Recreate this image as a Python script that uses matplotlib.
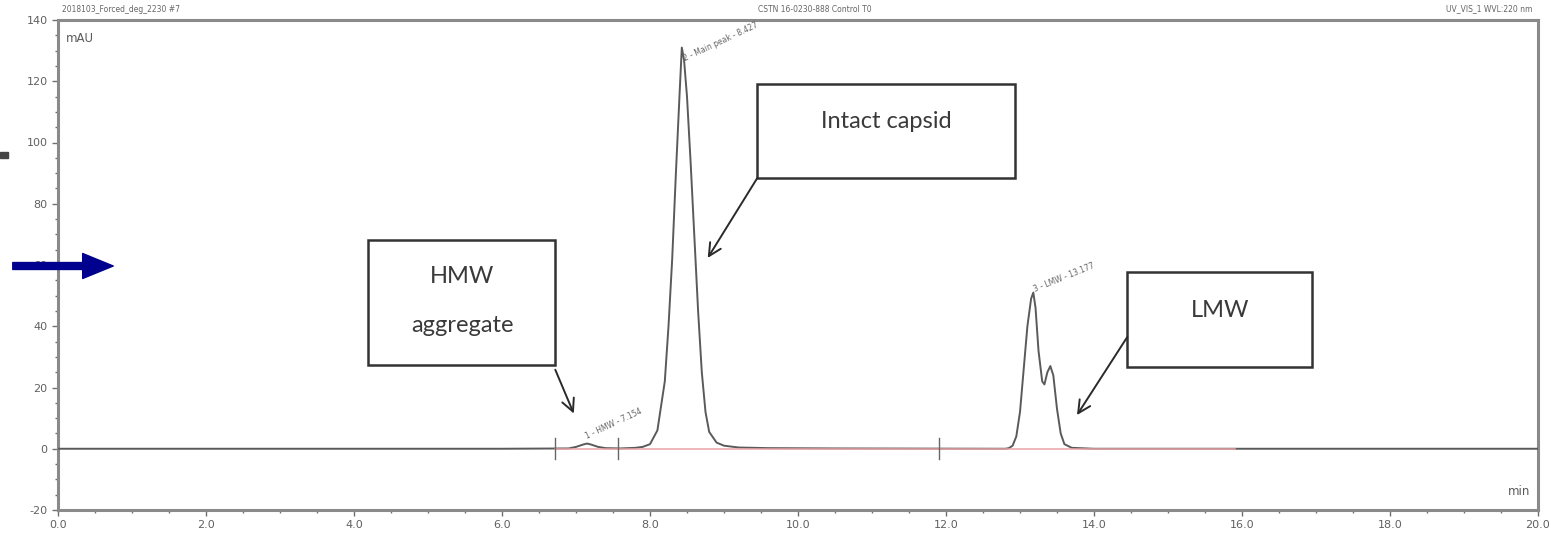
import matplotlib
matplotlib.use("Agg")
import matplotlib.pyplot as plt
from matplotlib.patches import Rectangle, FancyArrowPatch
from matplotlib.ticker import MultipleLocator

# ---- data ----
time_min = [0.0, 6.0, 6.9, 7.0, 7.1, 7.15, 7.2, 7.3, 7.4, 7.6, 7.8, 7.9, 8.0, 8.1, 8.2,
            8.25, 8.3, 8.35, 8.4, 8.43, 8.46, 8.5, 8.55, 8.6, 8.65, 8.7, 8.75, 8.8,
            8.9, 9.0, 9.2, 9.6, 10.5, 12.8, 12.85, 12.9, 12.95, 13.0, 13.05, 13.1,
            13.15, 13.18, 13.21, 13.25, 13.3, 13.33, 13.37, 13.41, 13.45, 13.5,
            13.55, 13.6, 13.7, 14.0, 20.0]
signal_mau = [0.0, 0.0, 0.1, 0.6, 1.4, 1.7, 1.4, 0.6, 0.2, 0.1, 0.3, 0.6, 1.5, 6.0, 22.0,
              40.0, 62.0, 90.0, 116.0, 131.0, 127.0, 115.0, 93.0, 69.0, 45.0, 25.0, 12.0, 5.5,
              2.0, 1.0, 0.4, 0.2, 0.1, 0.0, 0.2, 1.0, 4.0, 12.0, 26.0, 40.0,
              49.0, 51.0, 46.0, 32.0, 22.0, 21.0, 25.0, 27.0, 24.0, 13.0,
              5.0, 1.5, 0.3, 0.0, 0.0]

peak_labels = ["1 - HMW - 7.154", "2 - Main peak - 8.427", "3 - LMW - 13.177"]
peak_label_x = [7.16, 8.48, 13.21]
peak_label_y = [2.6, 126.0, 50.5]
peak_label_rot = [25, 25, 22]

delimiter_times = [6.72, 7.57, 11.9]
baseline_start, baseline_end = 6.72, 15.9

box_lines = [["Intact capsid"], ["HMW", "aggregate"], ["LMW"]]

x_ticks = [0, 2, 4, 6, 8, 10, 12, 14, 16, 18, 20]
y_ticks = [-20, 0, 20, 40, 60, 80, 100, 120, 140]

# ---- figure ----
W, H = 1551, 540
fig = plt.figure(figsize=(W / 100, H / 100), dpi=100)
fig.patch.set_facecolor("white")
ax = fig.add_axes([58 / W, 1 - 510 / H, (1538 - 58) / W, (510 - 20) / H])

gray = "#707070"
ax.plot(time_min, signal_mau, color="#5a5a5a", lw=1.4, zorder=3)
ax.plot([baseline_start, baseline_end], [0, 0], color="#e9a3a8", lw=1.1, zorder=4)
for t in delimiter_times:
    ax.plot([t, t], [-3.5, 3.5], color="#666666", lw=1.0, zorder=4)

ax.set_xlim(0, 20)
ax.set_ylim(-20, 140)
ax.set_xticks(x_ticks)
ax.set_xticklabels([f"{v:.1f}" for v in x_ticks])
ax.set_yticks(y_ticks)
ax.set_yticklabels([str(v) for v in y_ticks])
ax.xaxis.set_minor_locator(MultipleLocator(0.5))
ax.yaxis.set_minor_locator(MultipleLocator(5))
ax.tick_params(which="both", direction="out", color=gray, labelcolor="#606060",
               labelsize=8, width=1.0)
ax.tick_params(which="major", length=4)
ax.tick_params(which="minor", length=2.5)
for s in ax.spines.values():
    s.set_color("#8a8a8a")
    s.set_linewidth(2.2)

ax.text(0.005, 0.975, "mAU", transform=ax.transAxes, ha="left", va="top",
        fontsize=8.5, color="#5a5a5a")
ax.text(0.995, 0.025, "min", transform=ax.transAxes, ha="right", va="bottom",
        fontsize=8.5, color="#5a5a5a")

for lab, x, y, r in zip(peak_labels, peak_label_x, peak_label_y, peak_label_rot):
    ax.text(x, y, lab, rotation=r, rotation_mode="anchor", ha="left", va="bottom",
            fontsize=5.5, color="#666666")

# header texts
fig.text(62 / W, 1 - 9 / H, "2018103_Forced_deg_2230 #7", fontsize=5.5, color="#666666",
         ha="left", va="center")
fig.text(815 / W, 1 - 9 / H, "CSTN 16-0230-888 Control T0", fontsize=5.5, color="#666666",
         ha="center", va="center")
fig.text(1532 / W, 1 - 9 / H, "UV_VIS_1 WVL:220 nm", fontsize=5.5, color="#666666",
         ha="right", va="center")

# annotation boxes (x0, x1, y0, y1 in data units)
boxes = [(9.45, 12.93, 88.4, 119.0), (4.19, 6.72, 27.4, 68.2), (14.45, 16.95, 26.7, 57.7)]
box_text_x = [11.19, 5.46, 15.7]
box_text_y = [[107.0], [56.4, 40.1], [45.3]]
arrows = [((9.45, 88.4), (8.78, 62.3)), ((6.72, 25.8), (6.97, 11.5)),
          ((14.45, 36.5), (13.77, 11.0))]
for (x0, x1, y0, y1), lines, tx, tys, (a0, a1) in zip(boxes, box_lines, box_text_x,
                                                        box_text_y, arrows):
    ax.add_patch(Rectangle((x0, y0), x1 - x0, y1 - y0, fill=True, facecolor="white",
                           edgecolor="#333333", lw=1.8, zorder=5))
    for line, ty in zip(lines, tys):
        ax.text(tx, ty, line, ha="center", va="center", fontsize=17, color="#3a3a3a",
                family="Lato", zorder=6)
    ax.annotate("", xy=a1, xytext=a0,
                arrowprops=dict(arrowstyle="->,head_length=0.9,head_width=0.45",
                                color="#2a2a2a", lw=1.4, shrinkA=0, shrinkB=0), zorder=6)

# blue arrow at left and small dark mark
fig.patches.append(FancyArrowPatch((10 / W, 1 - 266 / H), (116 / W, 1 - 266 / H),
                                   transform=fig.transFigure,
                                   arrowstyle="simple,head_length=2.2,head_width=1.8,tail_width=0.5",
                                   mutation_scale=10, color="#00008f"))
fig.patches.append(Rectangle((0, 1 - 158 / H), 8 / W, 6 / H, transform=fig.transFigure,
                             color="#444444"))

fig.savefig("out.png", dpi=100, facecolor="white")
